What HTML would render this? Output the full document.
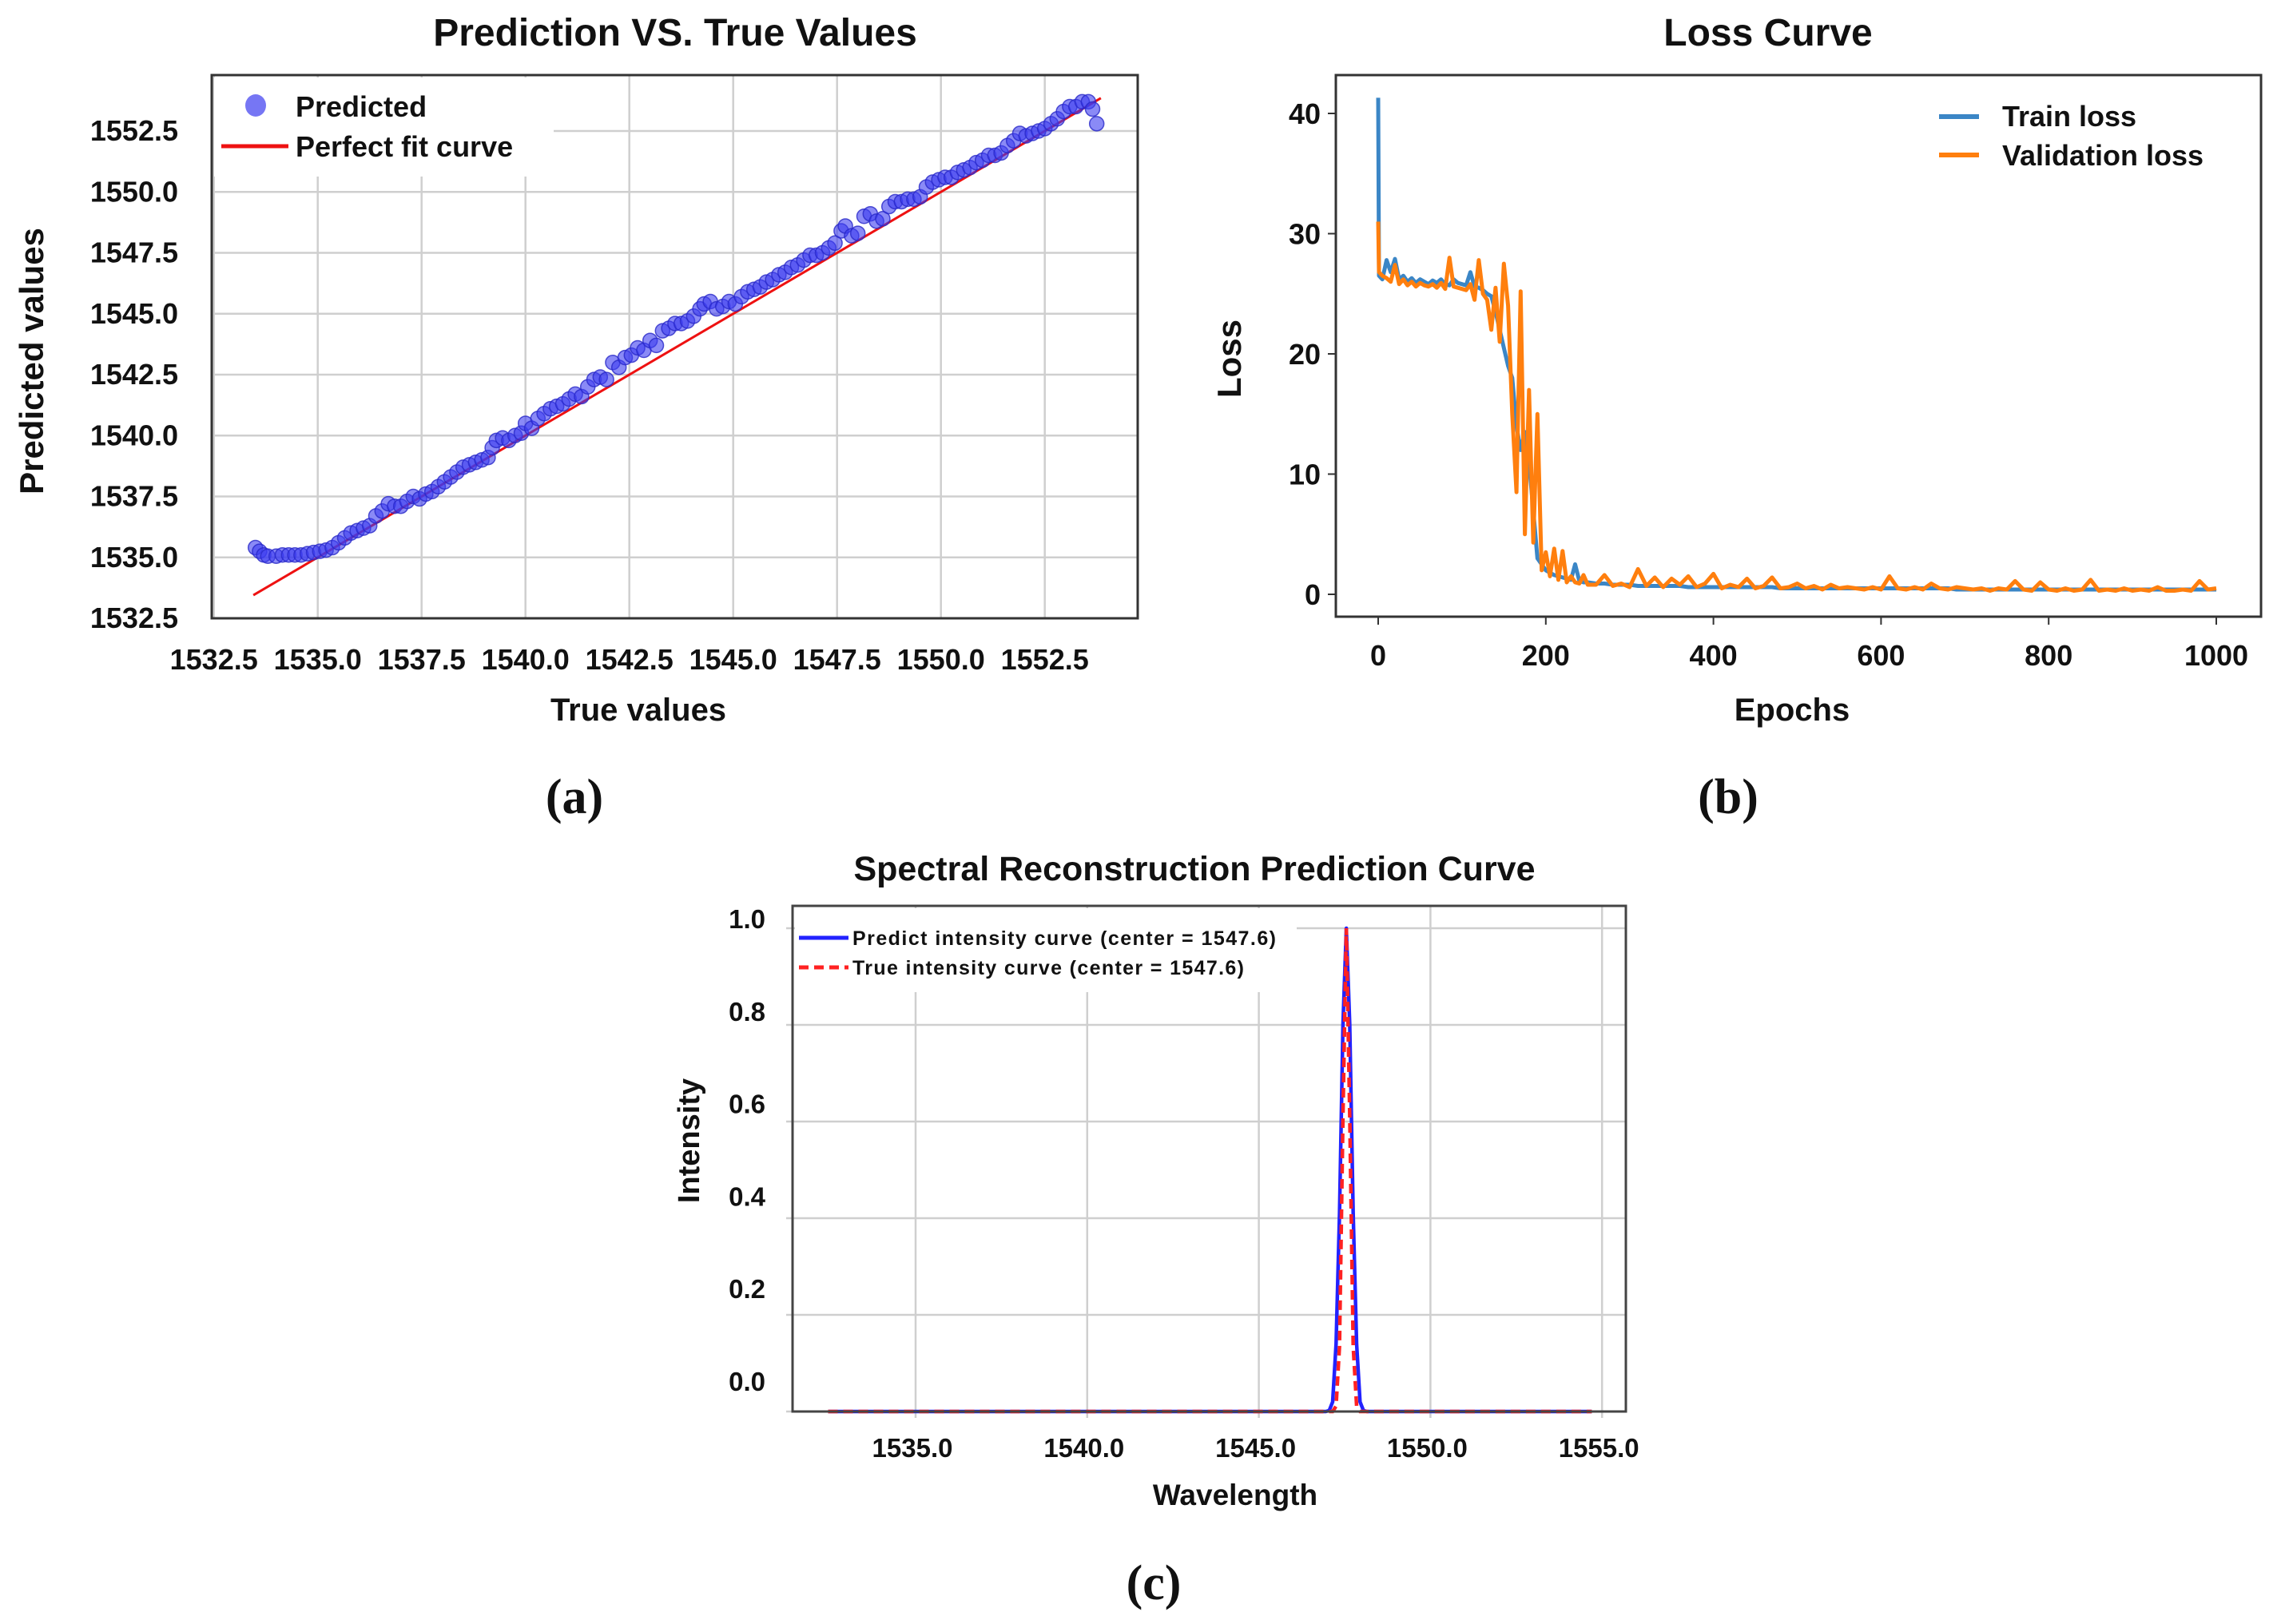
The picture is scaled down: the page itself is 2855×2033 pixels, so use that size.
<!DOCTYPE html>
<html><head><meta charset="utf-8"><style>
html,body{margin:0;padding:0;background:#fff}
svg{display:block}
text{font-family:"Liberation Sans",sans-serif;fill:#111}
text.serif{font-family:"Liberation Serif",serif}
</style></head><body>
<svg id="fig" width="2855" height="2033" viewBox="0 0 2855 2033" xmlns="http://www.w3.org/2000/svg">
<rect width="2855" height="2033" fill="#fff"/>
</svg>
<script>
// ---------- Panel (a) data ----------
const aTrue = [1533.5,1533.6,1533.7,1533.8,1534.0,1534.15,1534.3,1534.45,1534.6,1534.75,1534.9,1535.05,1535.2,1535.35,1535.5,1535.65,1535.8,1535.95,1536.1,1536.25,1536.4,1536.55,1536.7,1536.85,1537.0,1537.15,1537.3,1537.45,1537.6,1537.75,1537.9,1538.05,1538.2,1538.35,1538.5,1538.65,1538.8,1538.95,1539.1,1539.2,1539.3,1539.45,1539.6,1539.75,1539.9,1540.0,1540.15,1540.3,1540.45,1540.6,1540.75,1540.9,1541.05,1541.2,1541.35,1541.5,1541.65,1541.8,1541.95,1542.1,1542.25,1542.4,1542.55,1542.7,1542.85,1543.0,1543.15,1543.3,1543.45,1543.6,1543.75,1543.9,1544.05,1544.2,1544.3,1544.45,1544.6,1544.75,1544.9,1545.05,1545.2,1545.35,1545.5,1545.65,1545.8,1545.95,1546.1,1546.25,1546.4,1546.55,1546.7,1546.85,1547.0,1547.15,1547.3,1547.45,1547.6,1547.7,1547.85,1548.0,1548.15,1548.3,1548.45,1548.6,1548.75,1548.9,1549.05,1549.2,1549.35,1549.5,1549.65,1549.8,1549.95,1550.1,1550.25,1550.4,1550.55,1550.7,1550.85,1551.0,1551.15,1551.3,1551.45,1551.6,1551.75,1551.9,1552.05,1552.2,1552.35,1552.5,1552.65,1552.8,1552.95,1553.1,1553.25,1553.4,1553.55,1553.65,1553.75];
const aPred = [1535.4,1535.25,1535.1,1535.05,1535.05,1535.1,1535.1,1535.1,1535.1,1535.15,1535.2,1535.25,1535.3,1535.4,1535.6,1535.8,1536.0,1536.1,1536.2,1536.3,1536.7,1536.9,1537.2,1537.1,1537.1,1537.3,1537.5,1537.4,1537.6,1537.7,1537.9,1538.1,1538.3,1538.5,1538.7,1538.8,1538.9,1539.0,1539.1,1539.5,1539.8,1539.9,1539.8,1540.0,1540.1,1540.5,1540.3,1540.7,1540.9,1541.1,1541.2,1541.3,1541.5,1541.7,1541.6,1542.0,1542.3,1542.4,1542.3,1543.0,1542.8,1543.2,1543.3,1543.6,1543.5,1543.9,1543.7,1544.3,1544.4,1544.6,1544.6,1544.7,1544.9,1545.2,1545.4,1545.5,1545.2,1545.3,1545.5,1545.4,1545.7,1545.9,1546.0,1546.1,1546.3,1546.4,1546.6,1546.7,1546.9,1547.0,1547.2,1547.4,1547.4,1547.5,1547.7,1547.9,1548.4,1548.6,1548.2,1548.3,1549.0,1549.1,1548.8,1548.9,1549.4,1549.6,1549.6,1549.7,1549.7,1549.8,1550.2,1550.4,1550.5,1550.6,1550.6,1550.8,1550.9,1551.0,1551.2,1551.3,1551.5,1551.5,1551.6,1551.9,1552.1,1552.4,1552.3,1552.4,1552.5,1552.6,1552.8,1553.0,1553.3,1553.5,1553.5,1553.7,1553.7,1553.4,1552.8];
const aFitX = [1533.45,1553.85];
const aXTicks = [1532.5,1535.0,1537.5,1540.0,1542.5,1545.0,1547.5,1550.0,1552.5];
const aYTicks = [1532.5,1535.0,1537.5,1540.0,1542.5,1545.0,1547.5,1550.0,1552.5];

// ---------- Panel (b) data ----------
const bEpochsHead = [0,1,5,10,15,20,25,30,35,40,45,50,55,60,65,70,75,80,85,90,95,100,105,110,115,120,125,130,135,140,145,150,155,160,165,170,175,180,185,190,195,200,205,210,215,220,225,230,235,240,245,250];
const bTrainHead = [41.3,26.5,26.2,27.8,26.8,27.9,26.2,26.5,26.0,26.3,25.9,26.2,26.0,25.8,26.1,25.9,26.2,25.8,25.7,26.2,25.9,25.8,25.7,26.8,25.6,25.5,25.3,25.0,24.8,23.5,22.0,20.5,19.0,18.0,14.0,12.0,13.5,11.0,7.0,3.0,2.5,2.0,1.8,1.6,1.5,1.4,1.3,1.2,2.5,1.1,1.0,1.0];
const bValHead = [31.0,26.8,26.5,26.3,26.0,27.4,25.8,26.2,25.7,26.0,25.6,25.9,25.7,25.6,25.8,25.5,25.9,25.4,28.0,25.6,25.5,25.4,25.3,25.8,24.5,27.8,25.0,24.5,22.0,25.5,21.0,27.5,24.0,15.0,8.5,25.2,5.0,17.0,4.3,15.0,2.0,3.5,1.5,3.8,1.2,3.6,1.0,1.5,1.0,0.9,1.6,0.8];
const bTrainTail = [0.9,0.9,0.8,0.8,0.8,0.7,0.7,0.7,0.7,0.7,0.7,0.6,0.6,0.6,0.6,0.6,0.6,0.6,0.6,0.6,0.6,0.6,0.5,0.5,0.5,0.5,0.5,0.5,0.5,0.5,0.5,0.5,0.5,0.5,0.5,0.5,0.5,0.5,0.5,0.5,0.5,0.5,0.5,0.4,0.4,0.4,0.4,0.4,0.4,0.4,0.4,0.4,0.4,0.4,0.4,0.4,0.4,0.4,0.4,0.4,0.4,0.4,0.4,0.4,0.4,0.4,0.4,0.4,0.4,0.4,0.4,0.4,0.4,0.4,0.4];
const bValTail = [0.8,1.6,0.7,0.9,0.6,2.1,0.7,1.4,0.6,1.3,0.8,1.5,0.6,0.9,1.7,0.5,0.8,0.6,1.3,0.5,0.7,1.4,0.5,0.6,0.9,0.5,0.7,0.4,0.8,0.5,0.6,0.5,0.4,0.6,0.4,1.5,0.5,0.4,0.6,0.4,0.9,0.5,0.4,0.6,0.5,0.4,0.5,0.3,0.5,0.4,1.1,0.4,0.3,1.0,0.4,0.3,0.5,0.3,0.4,1.2,0.3,0.4,0.3,0.5,0.3,0.4,0.3,0.6,0.3,0.3,0.4,0.3,1.1,0.4,0.5];
const bXTicks = [0,200,400,600,800,1000];
const bYTicks = [0,10,20,30,40];

// ---------- Panel (c) data ----------
const cWave = [1532.45,1546.95,1547.05,1547.15,1547.25,1547.35,1547.45,1547.55,1547.65,1547.75,1547.85,1547.95,1548.05,1548.15,1554.7];
const cPredI = [0,0,0.002,0.02,0.14,0.41,0.8,1.0,0.8,0.41,0.14,0.02,0.002,0,0];
const cTrueI = [0,0,0,0,0.011,0.135,0.61,1.0,0.61,0.135,0.011,0,0,0,0];
const cXTicks = [1535.0,1540.0,1545.0,1550.0,1555.0];
const cYTicks = [0.0,0.2,0.4,0.6,0.8,1.0];

const NS='http://www.w3.org/2000/svg';
const svg=document.getElementById('fig');
function mk(tag,attrs,parent){const e=document.createElementNS(NS,tag);for(const k in attrs)e.setAttribute(k,attrs[k]);(parent||svg).appendChild(e);return e;}
function txt(s,attrs,parent){const e=mk('text',attrs,parent);e.textContent=s;return e;}

// ===== Panel A =====
const A={l:265,r:1424,t:94,b:774};
const ax=v=>267.7+(v-1532.5)*52.0;
const ay=v=>774-(v-1532.5)*30.5;
const gA=mk('g',{});


aXTicks.forEach(v=>{const l=mk('line',{x1:ax(v),x2:ax(v),y1:A.t,y2:A.b,stroke:'#cfcfcf','stroke-width':2.5},gA);});
aYTicks.forEach(v=>{const l=mk('line',{x1:A.l,x2:A.r,y1:ay(v),y2:ay(v),stroke:'#cfcfcf','stroke-width':2.5},gA);});
mk('rect',{x:A.l+3,y:A.t+3,width:425,height:124,fill:'#fff'},gA);
const fit=mk('line',{x1:ax(aFitX[0]),y1:ay(aFitX[0]),x2:ax(aFitX[1]),y2:ay(aFitX[1]),stroke:'#ee1111','stroke-width':3},gA);


aTrue.forEach((v,i)=>{const c=mk('circle',{cx:ax(v),cy:ay(aPred[i]),r:9,fill:'rgba(60,60,240,0.6)',stroke:'rgba(40,40,200,0.8)','stroke-width':1.5},gA);

});
mk('rect',{x:A.l,y:A.t,width:A.r-A.l,height:A.b-A.t,fill:'none',stroke:'#333','stroke-width':3},gA);
aXTicks.forEach(v=>{const t=txt(v.toFixed(1),{x:ax(v),y:838,'text-anchor':'middle','font-size':36,'font-weight':'bold'},gA);});
aYTicks.forEach(v=>{const t=txt(v.toFixed(1),{x:223,y:ay(v)+12,'text-anchor':'end','font-size':36,'font-weight':'bold'},gA);});
let t;
t=txt('Prediction VS. True Values',{x:845,y:57,'text-anchor':'middle','font-size':48,'font-weight':'bold'},gA);
t=txt('True values',{x:799,y:902,'text-anchor':'middle','font-size':40,'font-weight':'bold'},gA);
t=txt('Predicted values',{x:0,y:0,'text-anchor':'middle','font-size':42,'font-weight':'bold',transform:'translate(54,452) rotate(-90)'},gA);
const la=mk('g',{},gA);
mk('ellipse',{cx:320,cy:132,rx:13,ry:14,fill:'rgba(60,60,240,0.7)'},la);
txt('Predicted',{x:370,y:146,'font-size':36,'font-weight':'bold'},la);
mk('line',{x1:277,x2:361,y1:183,y2:183,stroke:'#ee1111','stroke-width':5},la);
txt('Perfect fit curve',{x:370,y:196,'font-size':36,'font-weight':'bold'},la);
t=txt('(a)',{x:719,y:1018,'text-anchor':'middle','font-size':62,'font-weight':'bold',class:'serif'},gA);

// ===== Panel B =====
const B={l:1672,r:2830,t:94,b:772};
const bx=v=>1725+v*1.049;
const by=v=>744-v*15.05;
const gB=mk('g',{});


const bEpochs=bEpochsHead.slice();for(let e=260;e<=1000;e+=10)bEpochs.push(e);
const bTrain=bTrainHead.concat(bTrainTail);
const bVal=bValHead.concat(bValTail);
function pathOf(xs,ys,fx,fy){return xs.map((x,i)=>(i?'L':'M')+fx(x).toFixed(1)+' '+fy(ys[i]).toFixed(1)).join(' ');}
const ptr=mk('path',{d:pathOf(bEpochs,bTrain,bx,by),fill:'none',stroke:'#3b86c6','stroke-width':5,'stroke-linejoin':'round'},gB);


const pva=mk('path',{d:pathOf(bEpochs,bVal,bx,by),fill:'none',stroke:'#ff7f0e','stroke-width':5,'stroke-linejoin':'round'},gB);


mk('rect',{x:B.l,y:B.t,width:B.r-B.l,height:B.b-B.t,fill:'none',stroke:'#333','stroke-width':3},gB);
bXTicks.forEach(v=>{mk('line',{x1:bx(v),x2:bx(v),y1:B.b,y2:B.b+10,stroke:'#333','stroke-width':2},gB);const t=txt(String(v),{x:bx(v),y:833,'text-anchor':'middle','font-size':36,'font-weight':'bold'},gB);});
bYTicks.forEach(v=>{mk('line',{x1:B.l-10,x2:B.l,y1:by(v),y2:by(v),stroke:'#333','stroke-width':2},gB);const t=txt(String(v),{x:1653,y:by(v)+13,'text-anchor':'end','font-size':36,'font-weight':'bold'},gB);});
t=txt('Loss Curve',{x:2213,y:57,'text-anchor':'middle','font-size':48,'font-weight':'bold'},gB);
t=txt('Epochs',{x:2243,y:902,'text-anchor':'middle','font-size':40,'font-weight':'bold'},gB);
t=txt('Loss',{x:0,y:0,'text-anchor':'middle','font-size':42,'font-weight':'bold',transform:'translate(1553,449) rotate(-90)'},gB);
const lb=mk('g',{},gB);
mk('line',{x1:2427,x2:2477,y1:146,y2:146,stroke:'#3b86c6','stroke-width':6},lb);
txt('Train loss',{x:2506,y:158,'font-size':36,'font-weight':'bold'},lb);
mk('line',{x1:2427,x2:2477,y1:194,y2:194,stroke:'#ff7f0e','stroke-width':6},lb);
txt('Validation loss',{x:2506,y:207,'font-size':36,'font-weight':'bold'},lb);
t=txt('(b)',{x:2163,y:1018,'text-anchor':'middle','font-size':62,'font-weight':'bold',class:'serif'},gB);

// ===== Panel C =====
const C={l:992,r:2035,t:1134,b:1767};
const cx=v=>1146+(v-1535)*42.96;
const cy=v=>1767-v*605;
const gC=mk('g',{});


cXTicks.forEach(v=>{const l=mk('line',{x1:cx(v),x2:cx(v),y1:C.t,y2:C.b+8,stroke:'#cfcfcf','stroke-width':2.5},gC);});
cYTicks.forEach(v=>{const l=mk('line',{x1:C.l-8,x2:C.r,y1:cy(v),y2:cy(v),stroke:'#cfcfcf','stroke-width':2.5},gC);});
mk('rect',{x:C.l+3,y:C.t+3,width:628,height:105,fill:'#fff'},gC);
const pp=mk('path',{d:pathOf(cWave,cPredI,cx,cy),fill:'none',stroke:'#2222ff','stroke-width':4.5,'stroke-linejoin':'round'},gC);


const pt=mk('path',{d:pathOf(cWave,cTrueI,cx,cy),fill:'none',stroke:'#ff2222','stroke-width':4.5,'stroke-dasharray':'12 7'},gC);


mk('rect',{x:C.l,y:C.t,width:C.r-C.l,height:C.b-C.t,fill:'none',stroke:'#444','stroke-width':3},gC);
cXTicks.forEach(v=>{const t=txt(v.toFixed(1),{x:cx(v)-4,y:1824,'text-anchor':'middle','font-size':33,'font-weight':'bold'},gC);});
cYTicks.forEach(v=>{const t=txt(v.toFixed(1),{x:958,y:1741-v*579,'text-anchor':'end','font-size':33,'font-weight':'bold'},gC);});
t=txt('Spectral Reconstruction Prediction Curve',{x:1495,y:1102,'text-anchor':'middle','font-size':43,'font-weight':'bold'},gC);
t=txt('Wavelength',{x:1546,y:1884,'text-anchor':'middle','font-size':37,'font-weight':'bold'},gC);
t=txt('Intensity',{x:0,y:0,'text-anchor':'middle','font-size':38,'font-weight':'bold',transform:'translate(875,1428) rotate(-90)'},gC);
const lc=mk('g',{},gC);
mk('line',{x1:1000,x2:1062,y1:1174,y2:1174,stroke:'#2222ff','stroke-width':5},lc);
txt('Predict intensity curve (center = 1547.6)',{x:1067,y:1183,'font-size':25,'font-weight':'bold',textLength:530},lc);
mk('line',{x1:1000,x2:1062,y1:1211,y2:1211,stroke:'#ff2222','stroke-width':5,'stroke-dasharray':'12 7'},lc);
txt('True intensity curve (center = 1547.6)',{x:1067,y:1220,'font-size':25,'font-weight':'bold',textLength:490},lc);
t=txt('(c)',{x:1444,y:2002,'text-anchor':'middle','font-size':62,'font-weight':'bold',class:'serif'},gC);
</script>
</body></html>
